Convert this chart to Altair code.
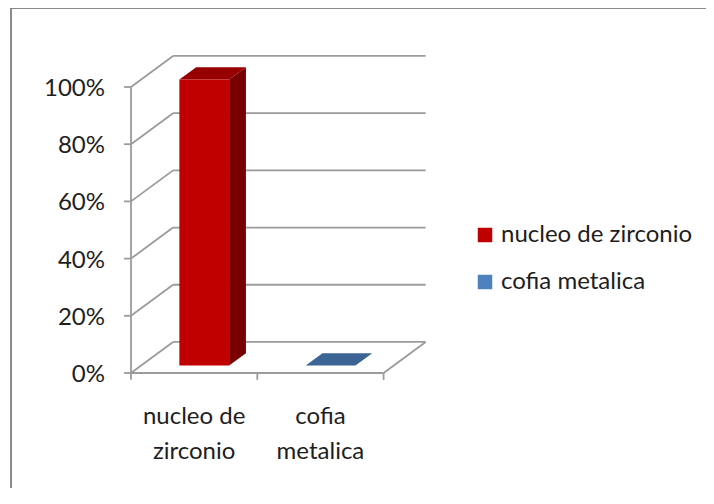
import altair as alt
import pandas as pd

# ---------------- data ----------------
CATEGORIES = ["nucleo de zirconio", "cofia metalica"]
CAT_LABELS = ["nucleo de\nzirconio", "cofia\nmetalica"]
VALUES = [100, 0]  # percent
Y_TICKS = [0, 20, 40, 60, 80, 100]
Y_TICK_LABELS = ["0%", "20%", "40%", "60%", "80%", "100%"]
FRONT_COLORS = ["#C00000", "#4F81BD"]
TOP_COLORS = ["#960000", "#3C6494"]
SIDE_COLORS = ["#780000", "#2F4F76"]

# ---------------- 3-D look (style) ----------------
DX = 0.333      # depth shift in category units (depth 1 = back wall)
DY = 10.85      # depth shift in percent units
HALF_W = 0.197  # half bar width, category units
D_FRONT = 0.24  # bar front depth
D_BACK = 0.64   # bar back depth
TICK_X = 0.055
TICK_Y = 2.4
N = len(CATEGORIES)

W, H = 698, 480
x_scale = alt.Scale(domain=[-0.9739, 4.5527], nice=False, zero=False)
y_scale = alt.Scale(domain=[-40.21, 127.62], nice=False, zero=False)
FONT = "Lato"
FS = 24
TXT = "#1E1E1E"
GRID = "#9B9B9B"

# frame segments
seg = []
for t in Y_TICKS:
    seg.append(dict(x=DX, y=t + DY, x2=N + DX, y2=t + DY))   # back wall gridline
    seg.append(dict(x=0, y=t, x2=DX, y2=t + DY))             # side wall line
    seg.append(dict(x=-TICK_X, y=t, x2=0, y2=t))             # y tick
seg.append(dict(x=0, y=0, x2=0, y2=Y_TICKS[-1]))             # front value axis
seg.append(dict(x=0, y=0, x2=N, y2=0))                       # floor front edge
seg.append(dict(x=N, y=0, x2=N + DX, y2=DY))                 # floor right edge
for i in range(N + 1):
    seg.append(dict(x=i, y=0, x2=i, y2=-TICK_Y))             # category ticks
seg_df = pd.DataFrame(seg)

centers = [i + 0.5 for i in range(N)]
front_df = pd.DataFrame({
    "cat": CATEGORIES,
    "x": [c - HALF_W + D_FRONT * DX for c in centers],
    "x2": [c + HALF_W + D_FRONT * DX for c in centers],
    "y": [D_FRONT * DY for _ in centers],
    "y2": [v + D_FRONT * DY for v in VALUES],
})

side_rows, top_rows = [], []
for cat, c, v, tc, sc in zip(CATEGORIES, centers, VALUES, TOP_COLORS, SIDE_COLORS):
    for d in (D_FRONT, D_BACK):
        side_rows.append(dict(cat=cat, fill=sc, x=c + HALF_W + d * DX, y=d * DY, y2=v + d * DY))
        top_rows.append(dict(cat=cat, fill=tc, y=v + d * DY, x=c - HALF_W + d * DX, x2=c + HALF_W + d * DX))
side_df = pd.DataFrame(side_rows)
top_df = pd.DataFrame(top_rows)

ylab_df = pd.DataFrame({"t": Y_TICKS, "label": Y_TICK_LABELS})
xlab_df = pd.DataFrame({"c": centers, "label": CAT_LABELS})

X = lambda f: alt.X(f, scale=x_scale, axis=None)
Y = lambda f: alt.Y(f, scale=y_scale, axis=None)

frame = alt.Chart(seg_df).mark_rule(color=GRID, strokeWidth=1.8).encode(
    x=X("x:Q"), y=Y("y:Q"), x2="x2:Q", y2="y2:Q")

side = alt.Chart(side_df).mark_area(orient="vertical").encode(
    x=X("x:Q"), y=Y("y:Q"), y2="y2:Q", detail="cat:N",
    fill=alt.Fill("fill:N", scale=None))

top = alt.Chart(top_df).mark_area(orient="horizontal").encode(
    y=Y("y:Q"), x=X("x:Q"), x2="x2:Q", detail="cat:N",
    fill=alt.Fill("fill:N", scale=None))

front = alt.Chart(front_df).mark_rect().encode(
    x=X("x:Q"), x2="x2:Q", y=Y("y:Q"), y2="y2:Q",
    color=alt.Color("cat:N", scale=alt.Scale(domain=CATEGORIES, range=FRONT_COLORS),
                    legend=alt.Legend(title=None, orient="none", legendX=465, legendY=215,
                                      symbolType="square", symbolSize=210, symbolStrokeWidth=0,
                                      labelFont=FONT, labelFontSize=FS, labelColor=TXT,
                                      labelOffset=4, rowPadding=23, padding=0, offset=0,
                                      labelLimit=400)))

ylab = alt.Chart(ylab_df).mark_text(align="right", baseline="middle", font=FONT,
                                    fontSize=FS, color=TXT, dy=2).encode(
    x=alt.value(97), y=Y("t:Q"), text="label:N")

xlab = alt.Chart(xlab_df).mark_text(align="center", baseline="alphabetic", font=FONT,
                                    fontSize=FS, color=TXT, lineBreak="\n",
                                    lineHeight=35).encode(
    x=X("c:Q"), y=alt.value(416), text="label:N")

border_df = pd.DataFrame({"k": [0]})
border_top = alt.Chart(border_df).mark_rule(color="#8A8A8A", strokeWidth=2).encode(
    x=alt.value(2), x2=alt.value(W), y=alt.value(0))
border_left = alt.Chart(border_df).mark_rule(color="#8A8A8A", strokeWidth=2).encode(
    x=alt.value(3), y=alt.value(0), y2=alt.value(H))

chart = alt.layer(border_top, border_left, frame, side, top, front, ylab, xlab).properties(
    width=W, height=H, autosize=alt.AutoSizeParams(type="none"), padding=0
).configure_view(stroke=None)

chart.save("out.html", embed_options={"renderer": "svg", "actions": False})
